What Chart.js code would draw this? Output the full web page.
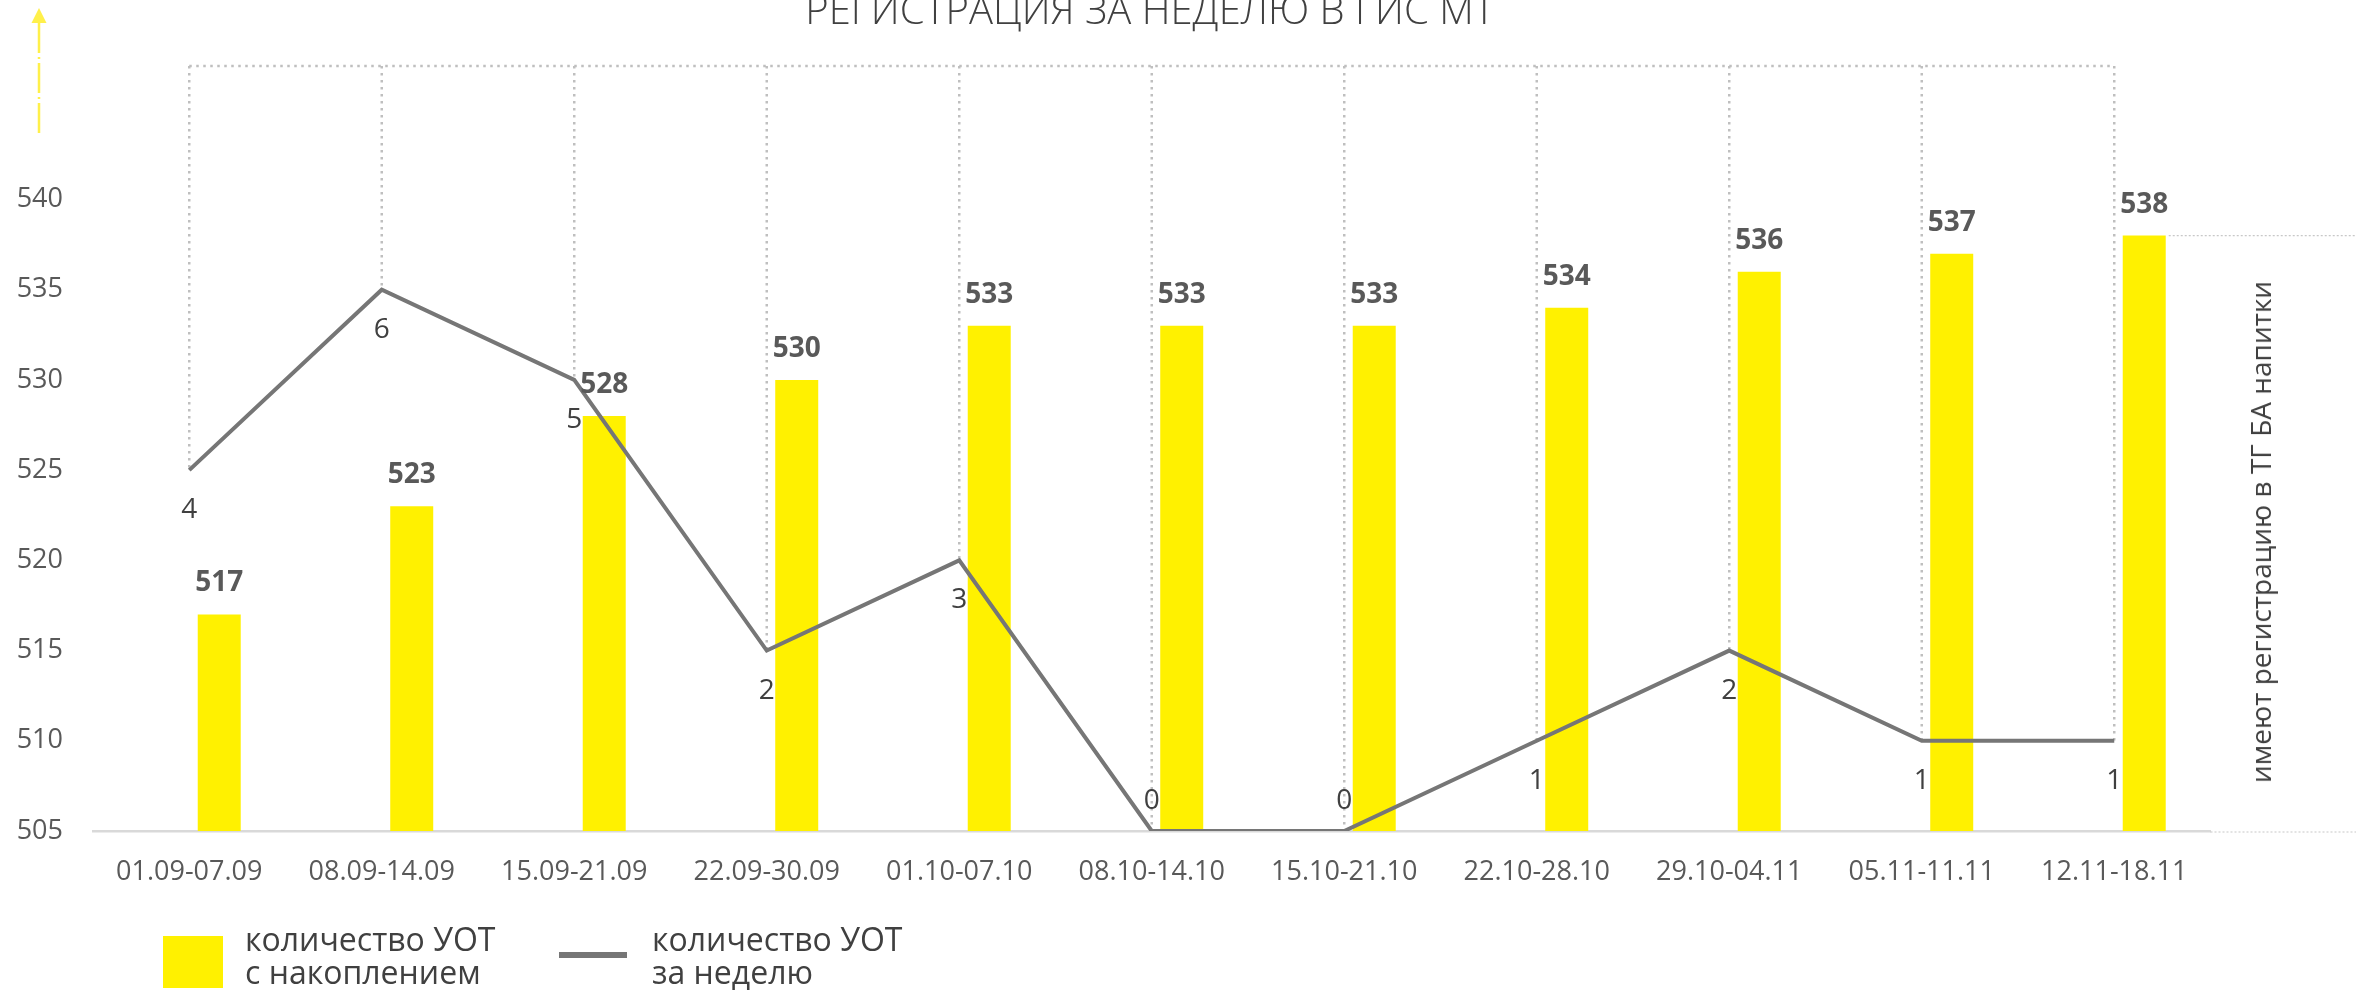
<!DOCTYPE html>
<html lang="ru">
<head>
<meta charset="utf-8">
<title>Регистрация за неделю в ГИС МТ</title>
<script src="https://cdn.jsdelivr.net/npm/chart.js@4.4.1/dist/chart.umd.min.js"></script>
<style>
    html, body { margin: 0; padding: 0; background: #fff; overflow: hidden; }
    #wrap { position: relative; width: 2367px; height: 991px; font-family: 'Open Sans', sans-serif; color: #404040; }
    #chart { position: absolute; left: 0; top: 0; }
    #title { position: absolute; left: 0; width: 2300px; top: -11px; text-align: center; font-size: 40px; line-height: 40px; font-weight: 300; color: #404040; }
    #sideLabel { position: absolute; left: 2260px; top: 532px; transform: translate(-50%, -50%) rotate(-90deg); white-space: nowrap; font-size: 28px; color: #404040; }
    .legend-text { position: absolute; font-size: 32px; line-height: 33px; color: #404040; white-space: nowrap; }
    .swatch-bar { position: absolute; left: 163px; top: 936px; width: 60px; height: 52px; background: #FFF100; }
    .swatch-line { position: absolute; left: 559px; top: 952px; width: 68px; height: 6px; background: #767676; }
</style>
</head>
<body>
<div id="wrap">
    <canvas id="chart" width="2367" height="991"></canvas>
    <div id="title">РЕГИСТРАЦИЯ ЗА НЕДЕЛЮ В ГИС МТ</div>
    <div id="sideLabel">имеют регистрацию в ТГ БА напитки</div>
    <div class="swatch-bar"></div>
    <div class="legend-text" style="left:245px; top:922px;">количество УОТ<br>с накоплением</div>
    <div class="swatch-line"></div>
    <div class="legend-text" style="left:652px; top:922px;">количество УОТ<br>за неделю</div>
</div>
<script>
const weeks = ['01.09-07.09', '08.09-14.09', '15.09-21.09', '22.09-30.09', '01.10-07.10', '08.10-14.10',
    '15.10-21.10', '22.10-28.10', '29.10-04.11', '05.11-11.11', '12.11-18.11'];
const totalUot = [517, 523, 528, 530, 533, 533, 533, 534, 536, 537, 538];
const weeklyUot = [4, 6, 5, 2, 3, 0, 0, 1, 2, 1, 1];
const yTicks = [505, 510, 515, 520, 525, 530, 535, 540];

// left axis starts at 505, one unit of the weekly line = 5 units of the left axis
const Y_MIN = 505;
const Y_TOP = 547.4;
const LINE_RATIO = 5;

const textColor = '#595959';
const yellow = '#FFF100';
const lineGray = '#767676';

const decorPlugin = {
    id: 'decor',
    beforeDatasetsDraw(chart) {
        const ctx = chart.ctx;
        const area = chart.chartArea;
        const pts = chart.getDatasetMeta(0).data;
        ctx.save();
        // dotted frame above the weekly line
        ctx.strokeStyle = '#BFBFBF';
        ctx.lineWidth = 2.5;
        ctx.setLineDash([2.5, 4.5]);
        ctx.beginPath();
        ctx.moveTo(pts[0].x, area.top);
        ctx.lineTo(pts[pts.length - 1].x, area.top);
        pts.forEach(p => {
            ctx.moveTo(p.x, area.top);
            ctx.lineTo(p.x, p.y);
        });
        ctx.stroke();

        // thin dotted lines on the right
        const bars = chart.getDatasetMeta(2).data;
        const last = bars[bars.length - 1];
        ctx.strokeStyle = '#C8C8C8';
        ctx.lineWidth = 1.2;
        ctx.setLineDash([2, 2]);
        ctx.beginPath();
        ctx.moveTo(last.x + last.width / 2 + 3, last.y);
        ctx.lineTo(chart.width - 11, last.y);
        ctx.moveTo(area.right, area.bottom + 1);
        ctx.lineTo(chart.width - 11, area.bottom + 1);
        ctx.stroke();

        // yellow arrow in the corner
        ctx.strokeStyle = '#FFF04A';
        ctx.fillStyle = '#FFF04A';
        ctx.lineWidth = 2.5;
        ctx.setLineDash([30, 4, 2, 4]);
        ctx.beginPath();
        ctx.moveTo(39, 23);
        ctx.lineTo(39, 135);
        ctx.stroke();
        ctx.setLineDash([]);
        ctx.beginPath();
        ctx.moveTo(39, 8);
        ctx.lineTo(31.5, 23);
        ctx.lineTo(46.5, 23);
        ctx.closePath();
        ctx.fill();
        ctx.restore();
    },
    afterDatasetsDraw(chart) {
        const ctx = chart.ctx;
        ctx.save();
        ctx.textAlign = 'center';
        ctx.textBaseline = 'middle';

        ctx.font = "bold 28px 'Open Sans', sans-serif";
        ctx.fillStyle = textColor;
        chart.getDatasetMeta(2).data.forEach((bar, i) => {
            ctx.fillText(String(totalUot[i]), bar.x, bar.y - 31);
        });

        ctx.font = "28px 'Open Sans', sans-serif";
        ctx.fillStyle = '#404040';
        chart.getDatasetMeta(0).data.forEach((p, i) => {
            const v = weeklyUot[i];
            ctx.fillText(String(v), p.x, v === 0 ? p.y - 30 : p.y + 40);
        });
        ctx.restore();
    }
};

Chart.defaults.font.family = "'Open Sans', sans-serif";
Chart.defaults.color = textColor;

new Chart(document.getElementById('chart').getContext('2d'), {
    data: {
        labels: weeks,
        datasets: [
            {
                type: 'line',
                label: 'количество УОТ за неделю',
                data: weeklyUot,
                yAxisID: 'y2',
                borderColor: lineGray,
                borderWidth: 4,
                pointRadius: 0,
                tension: 0,
                order: 0
            },
            {
                // empty slot, keeps the yellow bar right of the week mark
                type: 'bar',
                label: '',
                data: weeks.map(() => null),
                yAxisID: 'y',
                order: 1
            },
            {
                type: 'bar',
                label: 'количество УОТ с накоплением',
                data: totalUot,
                yAxisID: 'y',
                backgroundColor: yellow,
                order: 1
            }
        ]
    },
    options: {
        responsive: false,
        animation: false,
        devicePixelRatio: 1,
        layout: { padding: { left: 0, top: 66, right: 156.5, bottom: 0 } },
        datasets: {
            bar: { barPercentage: 0.717, categoryPercentage: 0.623 }
        },
        plugins: {
            legend: { display: false },
            title: { display: false },
            tooltip: { enabled: false }
        },
        scales: {
            x: {
                type: 'category',
                offset: true,
                grid: { display: false, drawTicks: false },
                border: { display: true, color: '#D9D9D9', width: 2.5 },
                ticks: { font: { size: 27 }, color: textColor, padding: 25, maxRotation: 0, autoSkip: false },
                afterFit(scale) { scale.height = 160; }
            },
            y: {
                type: 'linear',
                position: 'left',
                min: Y_MIN,
                max: Y_TOP,
                grid: { display: false, drawTicks: false },
                border: { display: false },
                ticks: { font: { size: 27 }, color: textColor, padding: 30 },
                afterBuildTicks(scale) { scale.ticks = yTicks.map(v => ({ value: v })); },
                afterFit(scale) { scale.width = 93; }
            },
            y2: {
                type: 'linear',
                position: 'right',
                display: false,
                min: 0,
                max: (Y_TOP - Y_MIN) / LINE_RATIO
            }
        }
    },
    plugins: [decorPlugin]
});
</script>
</body>
</html>
